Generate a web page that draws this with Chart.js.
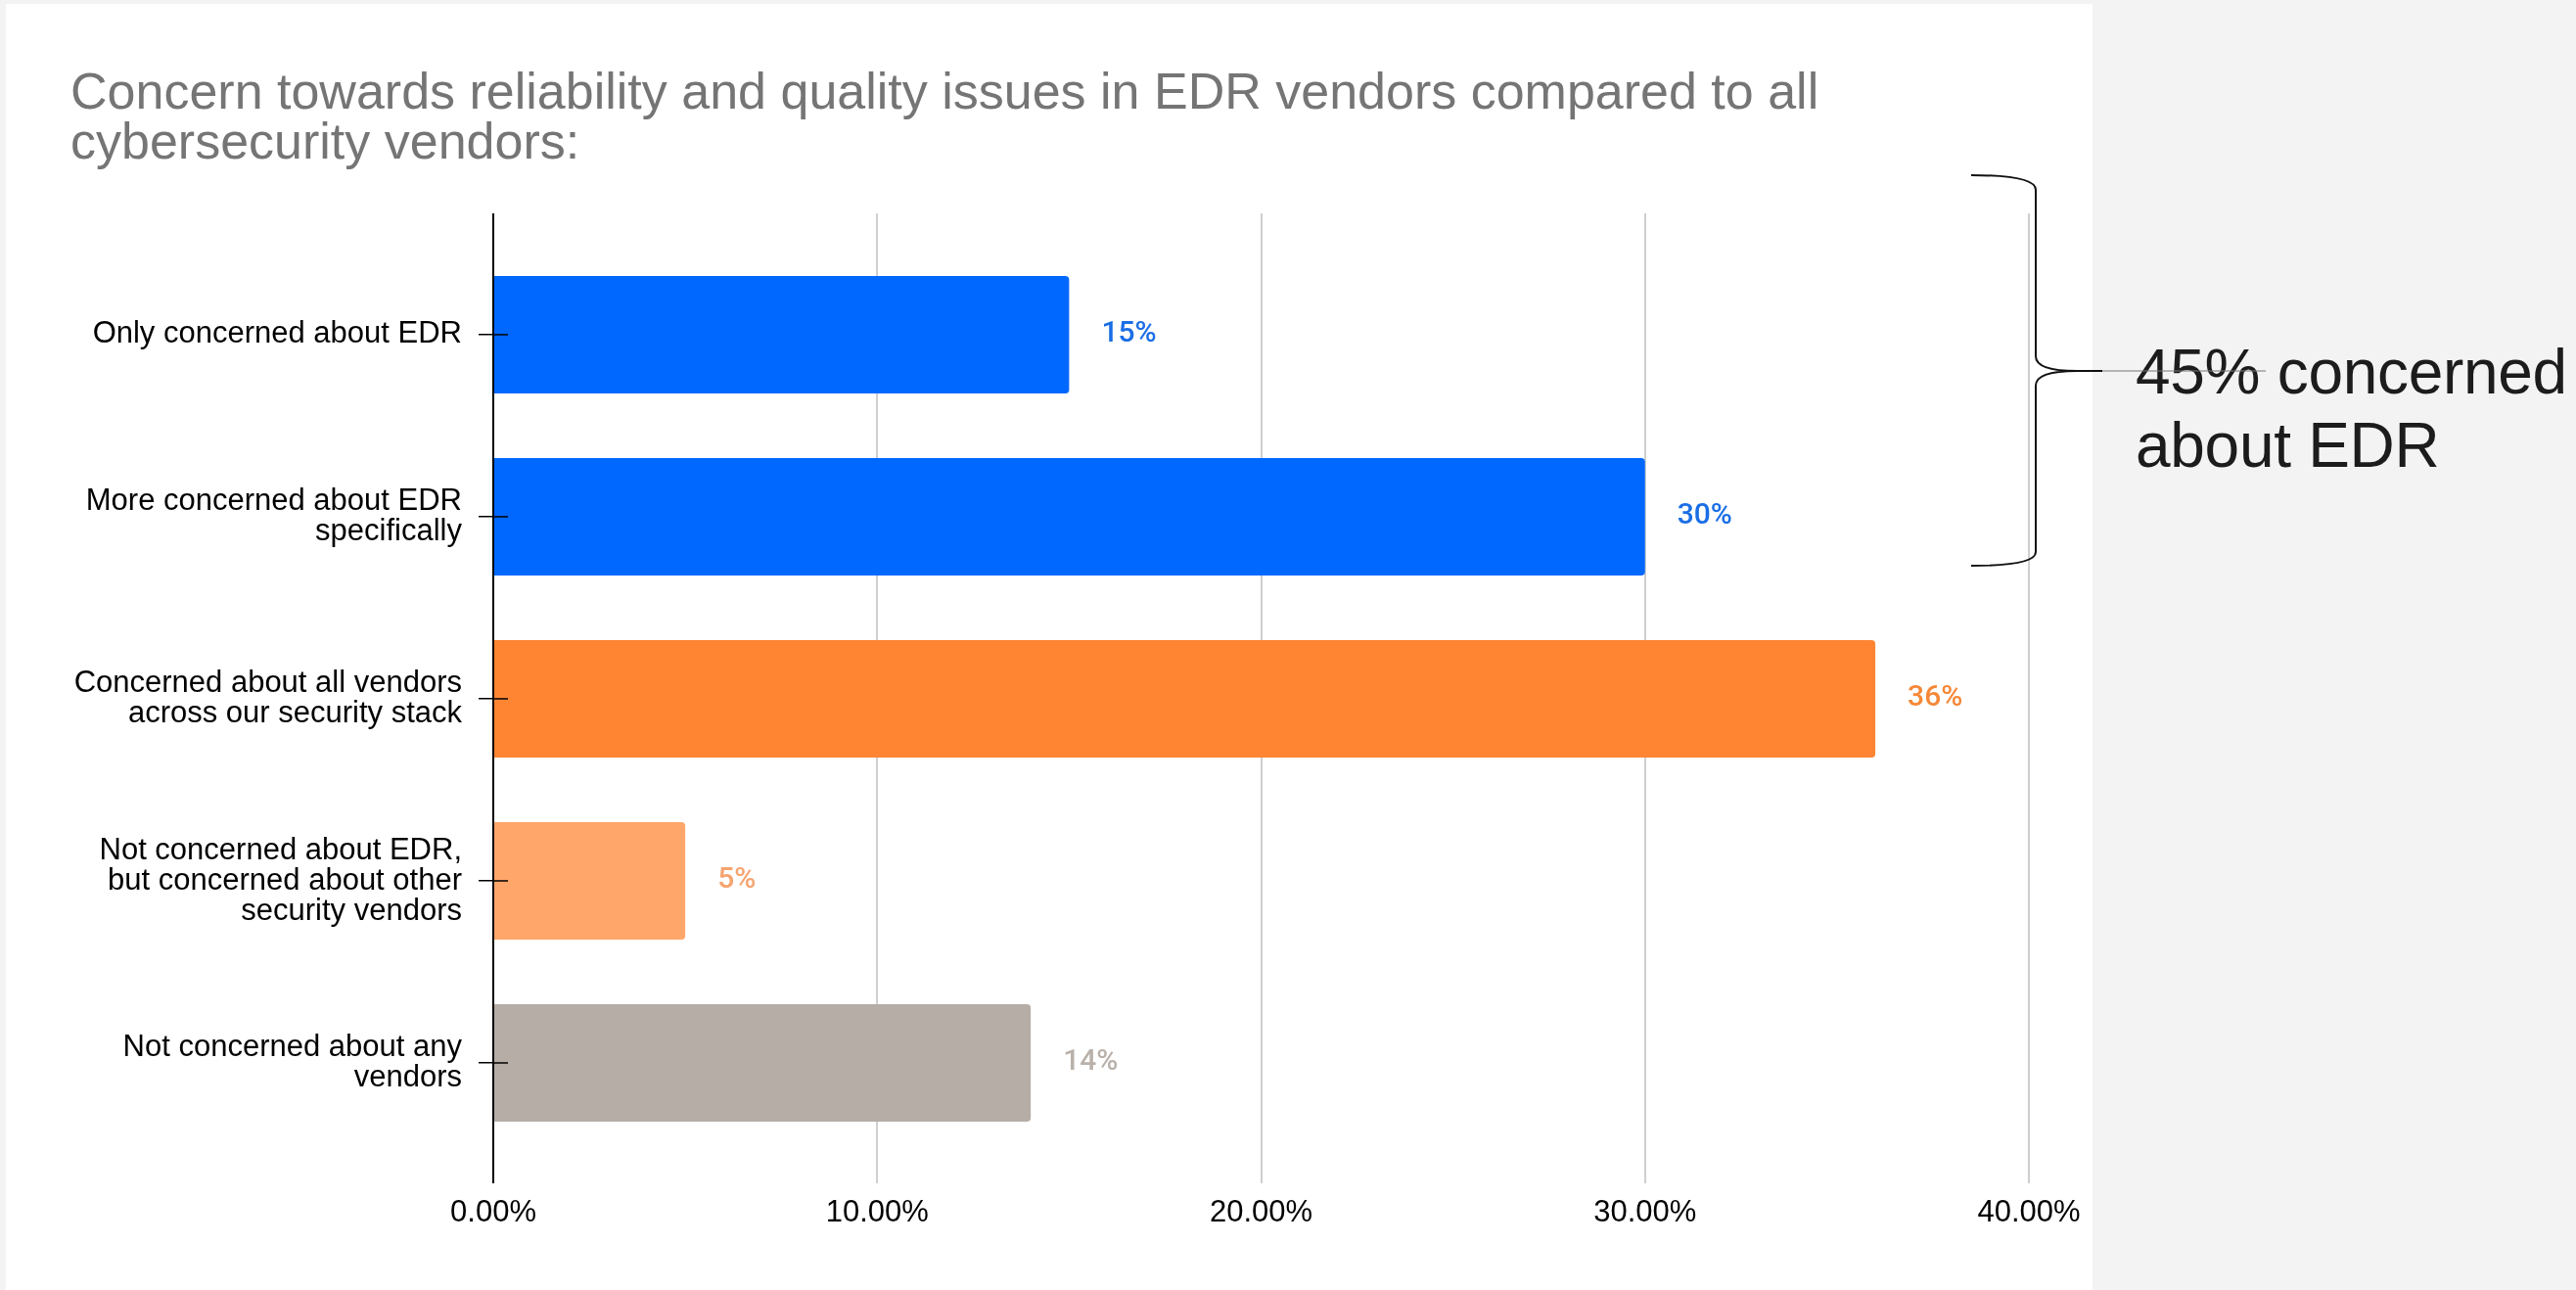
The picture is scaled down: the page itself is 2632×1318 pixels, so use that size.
<!DOCTYPE html>
<html>
<head>
<meta charset="utf-8">
<script src="https://cdn.jsdelivr.net/npm/chart.js@4.4.1/dist/chart.umd.min.js"></script>
<style>
  html, body { margin: 0; padding: 0; background: #f3f3f3; width: 2632px; height: 1318px; overflow: hidden; }
  #panel { position: absolute; left: 6px; top: 4px; width: 2132px; height: 1314px; background: #fff; }
  #chart { position: absolute; left: 0; top: 0; }
  #brace { position: absolute; left: 0; top: 0; }
  #note { position: absolute; left: 2182px; top: 343px; font: 64px "Liberation Sans", Arial, sans-serif; line-height: 75px; color: #1c1c1c; letter-spacing: -0.3px; white-space: nowrap; }
</style>
</head>
<body>
<div id="panel"></div>
<canvas id="chart" width="2632" height="1318"></canvas>
<div id="note">45% concerned<br>about EDR</div>
<svg id="brace" width="2632" height="1318">
  <path d="M2014,179 Q2080,179 2080,194 L2080,364 Q2080,379 2122,379 Q2080,379 2080,394 L2080,564 Q2080,578 2014,578"
        fill="none" stroke="#111" stroke-width="2"/>
  <line x1="2120" y1="379" x2="2148" y2="379" stroke="#111" stroke-width="2"/>
  <line x1="2148" y1="379" x2="2315" y2="379" stroke="#777" stroke-width="1"/>
</svg>
<script>
// ====== Datos ======
const categories = [
    ['Only concerned about EDR'],
    ['More concerned about EDR', 'specifically'],
    ['Concerned about all vendors', 'across our security stack'],
    ['Not concerned about EDR,', 'but concerned about other', 'security vendors'],
    ['Not concerned about any', 'vendors']
];
const percentValues = [15, 30, 36, 5, 14];
const xTicks = [0, 10, 20, 30, 40];

const barColors = ['#0068ff', '#0068ff', '#ff8533', '#ffa66b', '#b5ada6'];
const labelColors = ['#1a6ee6', '#1a6ee6', '#f58838', '#f7a470', '#b9b1aa'];

const titleLines = [
    'Concern towards reliability and quality issues in EDR vendors compared to all',
    'cybersecurity vendors:'
];

// ====== Etiquetas de valor + marcas del eje Y sobre las barras ======
const valueLabels = {
    id: 'valueLabels',
    afterDatasetsDraw(chart) {
        const ctx = chart.ctx;
        const meta = chart.getDatasetMeta(0);
        const yScale = chart.scales.y;
        const left = chart.chartArea.left;
        ctx.save();
        // la marca del eje cruza el borde de la barra
        ctx.strokeStyle = '#000';
        ctx.lineWidth = 1.5;
        yScale.ticks.forEach((t, i) => {
            const py = yScale.getPixelForTick(i);
            ctx.beginPath();
            ctx.moveTo(left - 1, py);
            ctx.lineTo(left + 15, py);
            ctx.stroke();
        });
        ctx.font = '500 30px Roboto';
        ctx.textBaseline = 'middle';
        ctx.textAlign = 'left';
        meta.data.forEach((bar, i) => {
            ctx.fillStyle = labelColors[i];
            ctx.fillText(percentValues[i] + '%', bar.x + 33, bar.y);
        });
        ctx.restore();
    }
};

const gridColor = c => (c.tick && c.tick.value === 0) ? '#000000' : '#cfcfcf';
const gridWidth = c => 2;
const setTicks = s => { s.ticks = xTicks.map(v => ({ value: v })); };

const ctx = document.getElementById('chart').getContext('2d');
const concernChart = new Chart(ctx, {
    type: 'bar',
    data: {
        labels: categories,
        datasets: [{
            data: percentValues,
            backgroundColor: barColors,
            borderRadius: 4,
            borderSkipped: 'start',
            barPercentage: 0.645,
            categoryPercentage: 1
        }]
    },
    options: {
        indexAxis: 'y',
        responsive: false,
        animation: false,
        layout: { padding: { left: 72, right: 559, top: 0, bottom: 63 } },
        plugins: {
            legend: { display: false },
            tooltip: { enabled: false },
            title: {
                display: true,
                text: titleLines,
                align: 'start',
                color: '#757575',
                font: { family: 'Liberation Sans', size: 52, weight: 'normal', lineHeight: 0.98 },
                padding: { top: 71, bottom: 45 }
            }
        },
        scales: {
            y: {
                grid: { drawOnChartArea: false, offset: false, tickLength: 15, color: '#000', lineWidth: 1.5 },
                border: { display: false },
                ticks: { color: '#000', padding: 17, font: { family: 'Liberation Sans', size: 31, lineHeight: 1.0 } },
                afterFit(s) { s.width = 432; }
            },
            x: {
                type: 'linear',
                position: 'bottom',
                min: xTicks[0],
                max: xTicks[xTicks.length - 1],
                afterBuildTicks: setTicks,
                grid: { color: gridColor, lineWidth: gridWidth, tickLength: 30 },
                border: { display: false },
                ticks: {
                    color: '#000',
                    padding: 15,
                    font: { family: 'Liberation Sans', size: 31, lineHeight: 1.0 },
                    callback: v => v.toFixed(2) + '%'
                },
                afterFit(s) { s.height = 76; s.paddingLeft = 0; s.paddingRight = 0; }
            },
            x2: {
                type: 'linear',
                position: 'top',
                min: xTicks[0],
                max: xTicks[xTicks.length - 1],
                afterBuildTicks: setTicks,
                grid: { drawOnChartArea: false, color: gridColor, lineWidth: gridWidth, tickLength: 31 },
                border: { display: false },
                ticks: { display: false },
                afterFit(s) { s.height = 31; s.paddingLeft = 0; s.paddingRight = 0; }
            }
        }
    },
    plugins: [valueLabels]
});
</script>
</body>
</html>
